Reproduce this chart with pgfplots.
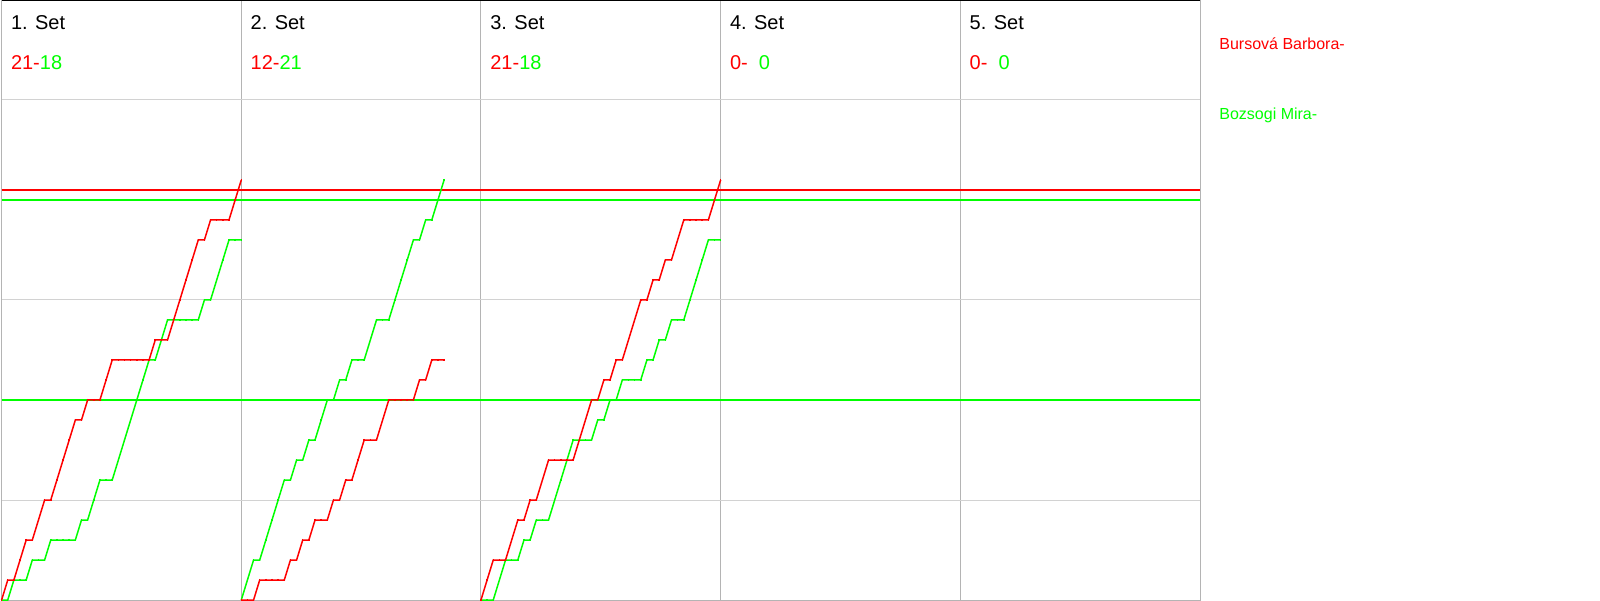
\documentclass[border=0pt]{standalone}
\usepackage{pgfplots}
\usepackage{pgfplotstable}
\pgfplotsset{compat=1.18}
\usepackage{fontspec}
\setmainfont{Liberation Sans}
\definecolor{sred}{RGB}{255,0,0}
\definecolor{sgreen}{RGB}{0,255,0}
\definecolor{vgray}{RGB}{180,180,180}
\definecolor{hgray}{RGB}{210,210,210}

% n = rally number, r = Bursova, g = Bozsogi
\pgfplotstableread{
n r g
0 0 0
1 1 0
2 1 1
3 2 1
4 3 1
5 3 2
6 4 2
7 5 2
8 5 3
9 6 3
10 7 3
11 8 3
12 9 3
13 9 4
14 10 4
15 10 5
16 10 6
17 11 6
18 12 6
19 12 7
20 12 8
21 12 9
22 12 10
23 12 11
24 12 12
25 13 12
26 13 13
27 13 14
28 14 14
29 15 14
30 16 14
31 17 14
32 18 14
33 18 15
34 19 15
35 19 16
36 19 17
37 19 18
38 20 18
39 21 18
}\setone

\pgfplotstableread{
n r g
0 0 0
1 0 1
2 0 2
3 1 2
4 1 3
5 1 4
6 1 5
7 1 6
8 2 6
9 2 7
10 3 7
11 3 8
12 4 8
13 4 9
14 4 10
15 5 10
16 5 11
17 6 11
18 6 12
19 7 12
20 8 12
21 8 13
22 8 14
23 9 14
24 10 14
25 10 15
26 10 16
27 10 17
28 10 18
29 11 18
30 11 19
31 12 19
32 12 20
33 12 21
}\settwo

\pgfplotstableread{
n r g
0 0 0
1 1 0
2 2 0
3 2 1
4 2 2
5 3 2
6 4 2
7 4 3
8 5 3
9 5 4
10 6 4
11 7 4
12 7 5
13 7 6
14 7 7
15 7 8
16 8 8
17 9 8
18 10 8
19 10 9
20 11 9
21 11 10
22 12 10
23 12 11
24 13 11
25 14 11
26 15 11
27 15 12
28 16 12
29 16 13
30 17 13
31 17 14
32 18 14
33 19 14
34 19 15
35 19 16
36 19 17
37 19 18
38 20 18
39 21 18
}\setthree

\begin{document}
\begin{tikzpicture}
\path[use as bounding box] (0,0) rectangle (800pt,300pt);
\begin{axis}[
  at={(0.8pt,0pt)}, anchor=south west,
  width=599.2pt, height=300pt, scale only axis,
  xmin=0, xmax=195, ymin=0, ymax=30,
  xtick={39,78,117,156}, ytick={5,15,25},
  xticklabels={}, yticklabels={},
  major tick length=0pt,
  xmajorgrids, ymajorgrids,
  x grid style={vgray, line width=0.5pt},
  y grid style={hgray, line width=0.5pt},
  axis line style={vgray, line width=0.5pt},
  clip=false,
  every axis plot/.append style={line width=0.75pt, mark=|, mark size=0.6pt},
]
% reference lines
\addplot[sred, line width=0.6pt, mark=none] coordinates {(0,20.5) (195,20.5)};
\addplot[sgreen, line width=0.6pt, mark=none] coordinates {(0,20) (195,20)};
\addplot[sgreen, line width=0.6pt, mark=none] coordinates {(0,10) (195,10)};
% set 1
\addplot[sgreen] table[x=n, y=g] {\setone};
\addplot[sred] table[x=n, y=r] {\setone};
% set 2
\addplot[sgreen] table[x expr=\thisrow{n}+39, y=g] {\settwo};
\addplot[sred] table[x expr=\thisrow{n}+39, y=r] {\settwo};
% set 3
\addplot[sgreen] table[x expr=\thisrow{n}+78, y=g] {\setthree};
\addplot[sred] table[x expr=\thisrow{n}+78, y=r] {\setthree};
% top border
\draw[black, line width=0.6pt] (rel axis cs:0,1) -- (rel axis cs:1,1);
% headers
\foreach \k/\lab in {0/1,1/2,2/3,3/4,4/5}{
  \edef\tmp{\noexpand\node[anchor=base west, inner sep=0pt, font=\noexpand\fontsize{10pt}{12pt}\noexpand\selectfont, xshift=4.5pt] at (axis cs:{39*\k},28.5) {\lab. Set};}
  \tmp
}
\node[anchor=base west, inner sep=0pt, font=\fontsize{10pt}{12pt}\selectfont, xshift=4.5pt] at (axis cs:0,26.5) {\textcolor{sred}{21-}\textcolor{sgreen}{18}};
\node[anchor=base west, inner sep=0pt, font=\fontsize{10pt}{12pt}\selectfont, xshift=4.5pt] at (axis cs:39,26.5) {\textcolor{sred}{12-}\textcolor{sgreen}{21}};
\node[anchor=base west, inner sep=0pt, font=\fontsize{10pt}{12pt}\selectfont, xshift=4.5pt] at (axis cs:78,26.5) {\textcolor{sred}{21-}\textcolor{sgreen}{18}};
\node[anchor=base west, inner sep=0pt, font=\fontsize{10pt}{12pt}\selectfont, xshift=4.5pt] at (axis cs:117,26.5) {\textcolor{sred}{0-}\phantom{0}\textcolor{sgreen}{0}};
\node[anchor=base west, inner sep=0pt, font=\fontsize{10pt}{12pt}\selectfont, xshift=4.5pt] at (axis cs:156,26.5) {\textcolor{sred}{0-}\phantom{0}\textcolor{sgreen}{0}};
\end{axis}
% legend
\node[anchor=base west, inner sep=0pt, font=\fontsize{8pt}{10pt}\selectfont, text=sred] at (609.5pt,275pt) {Bursová Barbora-};
\node[anchor=base west, inner sep=0pt, font=\fontsize{8pt}{10pt}\selectfont, text=sgreen] at (609.5pt,240pt) {Bozsogi Mira-};
\end{tikzpicture}
\end{document}
